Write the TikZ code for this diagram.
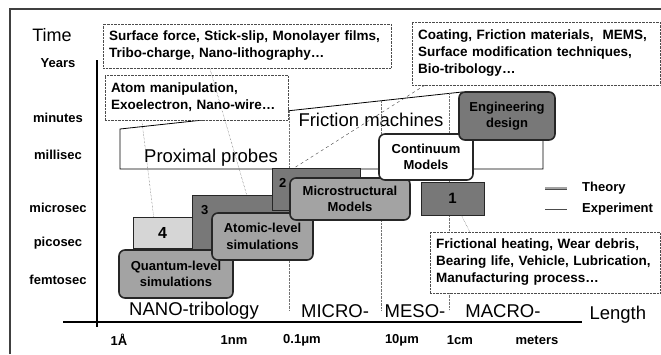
\documentclass[tikz,border=0pt]{standalone}
\usepackage{fontspec}
\setmainfont{Liberation Sans}
\usepackage{tikz}
\usetikzlibrary{positioning,calc}

\definecolor{theorydark}{gray}{0.47}
\definecolor{theorymid}{gray}{0.64}
\definecolor{theorylight}{gray}{0.84}
\newcommand{\tbfont}{\fontsize{13.5}{17}\selectfont\bfseries}
\newcommand{\simfont}{\fontsize{13}{16.5}\selectfont\bfseries}
\newcommand{\lgfont}{\fontsize{18.5}{22}\selectfont}

\begin{document}
\begin{tikzpicture}[
    x=1pt, y=-1pt,
    txtbox/.style={rectangle, draw=black!70, densely dotted, fill=white, inner xsep=6pt, inner ysep=0pt, align=left, font=\tbfont},
    theory/.style={rectangle, draw=black!85, line width=0.7pt, fill=theorydark, inner sep=0pt, font=\simfont},
    simbox/.style={rectangle, rounded corners=6pt, draw=black!85, line width=1.6pt, fill=theorymid, inner sep=0pt, align=center, font=\simfont},
    expbox/.style={draw=black, line width=0.8pt, fill=white},
    boundary/.style={densely dotted, black!55},
    link/.style={densely dotted, black!75},
    axislbl/.style={font=\simfont},
    regime/.style={font=\lgfont},
]

\useasboundingbox (0,0) rectangle (661,354);

% === FRAME ===
\draw[black!75, line width=1.2pt] (10,354) -- (10,9) -- (661,9);

% === EXPERIMENT REGION ===
\draw[expbox] (120,129) -- (462,92) -- (543,112) -- (543,169) -- (120,169) -- cycle;
\node[regime] (proximal) at (211,158) {Proximal probes};
\node[regime] (friction) at (371,120) {Friction machines};

% === SCALE BOUNDARIES ===
\coordinate (nanotop) at (289,111);
\coordinate (nanobot) at (289,310);
\coordinate (microtop) at (381,101);
\coordinate (microbot) at (381,310);
\coordinate (mesotop) at (449,93);
\coordinate (mesobot) at (449,310);
\draw[boundary] (nanotop) -- (nanobot);
\draw[boundary] (microtop) -- (microbot);
\draw[boundary] (mesotop) -- (mesobot);

% === THEORY BOXES ===
\node[theory, fill=theorylight, minimum width=59pt, minimum height=31pt, font=\fontsize{16}{16}\selectfont\bfseries] (scalefour) at (162.5,232.5) {4};
\node[theory, minimum width=108pt, minimum height=58pt] (scalethree) at (246,224) {};
\node[theory, minimum width=88pt, minimum height=42pt] (scaletwo) at (316,189) {};
\node[theory, minimum width=63pt, minimum height=33pt, font=\fontsize{15}{15}\selectfont\bfseries] (scaleone) at (452.5,198.5) {1};
\node[axislbl] (threelbl) at ([xshift=13pt,yshift=-15pt]scalethree.north west) {3};
\node[axislbl] (twolbl) at ([xshift=11pt,yshift=-15pt]scaletwo.north west) {2};

\node[simbox, minimum width=114pt, minimum height=48pt] (quantum) at (176,274) {Quantum-level\\simulations};
\node[simbox, minimum width=101pt, minimum height=47pt] (atomic) at (262.5,236.5) {Atomic-level\\simulations};
\node[simbox, minimum width=120pt, minimum height=42pt] (micro) at (350,199) {Microstructural\\Models};
\node[simbox, fill=white, minimum width=94pt, minimum height=46pt] (continuum) at (426,157) {Continuum\\Models};
\node[simbox, fill=theorydark, minimum width=96pt, minimum height=48pt] (engdesign) at (507,116) {Engineering\\design};

% === PHENOMENA ===
\node[txtbox, text width=276pt, minimum height=44pt] (forcetxt) at (247,46) {Surface force, Stick-slip, Monolayer films,\\Tribo-charge, Nano-lithography\ldots};
\node[txtbox, text width=171pt, minimum height=45pt] (atomtxt) at (196.5,97.5) {Atom manipulation,\\Exoelectron, Nano-wire\ldots};
\node[txtbox, text width=236pt, minimum height=63pt] (coattxt) at (536,53.5) {Coating, Friction materials,\ \ MEMS,\\Surface modification techniques,\\Bio-tribology\ldots};
\node[txtbox, text width=218pt, minimum height=61pt] (heattxt) at (545,262.5) {Frictional heating, Wear debris,\\Bearing life, Vehicle, Lubrication,\\Manufacturing process\ldots};

% === LINKS ===
\draw[link] ([xshift=37pt]atomtxt.south west) -- ([xshift=21pt]scalefour.north west);
\draw[link] ([xshift=107pt]forcetxt.south west) -- ([xshift=55pt]scalethree.north west);
\draw[link, dashed] ([xshift=13pt]coattxt.south west) -- ([xshift=23pt]scaletwo.north west);
\draw[link] ([xshift=40pt]heattxt.north west) -- ([xshift=-23pt]scaleone.south east);

% === AXES ===
\coordinate (taxtop) at (97,60);
\coordinate (taxbot) at (97,327);
\coordinate (laxleft) at (63,322);
\coordinate (laxright) at (582,322);
\draw[line width=1.8pt] (taxtop) -- (taxbot);
\draw[line width=1.3pt] (laxleft) -- (laxright);
\node[font=\fontsize{18}{18}\selectfont] (timelbl) at (52,35) {Time};
\node[regime, right=4pt of laxright, yshift=7pt] (lengthlbl) {Length};

\node[axislbl] (years) at (58,63) {Years};
\node[axislbl] (minutes) at (58,118) {minutes};
\node[axislbl] (millisec) at (58,155) {millisec};
\node[axislbl] (microsec) at (58,208) {microsec};
\node[axislbl] (picosec) at (58,243) {picosec};
\node[axislbl] (femtosec) at (58,280) {femtosec};

\node[axislbl] (angstrom) at (119,340) {1Å};
\node[axislbl] (nanometer) at (234,340) {1nm};
\node[axislbl] (submicron) at (302,340) {0.1μm};
\node[axislbl] (tenmicron) at (402,340) {10μm};
\node[axislbl] (centimeter) at (460,340) {1cm};
\node[axislbl] (meters) at (537,340) {meters};

\node[regime] (nano) at (194,311) {NANO-tribology};
\node[regime] (microlbl) at (335,311) {MICRO-};
\node[regime] (meso) at (415,311) {MESO-};
\node[regime] (macro) at (503,311) {MACRO-};

% === LEGEND ===
\node[axislbl, anchor=west, inner xsep=0pt] (theorylbl) at (582,188) {Theory};
\node[axislbl, anchor=west, inner xsep=0pt] (explbl) at (582,209) {Experiment};
\draw[double=theorymid, double distance=2pt, draw=black!70, line width=0.5pt] ([xshift=-37pt]theorylbl.west) -- ([xshift=-15pt]theorylbl.west);
\draw[black!70, line width=0.6pt] ([xshift=-37pt]explbl.west) -- ([xshift=-15pt]explbl.west);

\end{tikzpicture}
\end{document}
